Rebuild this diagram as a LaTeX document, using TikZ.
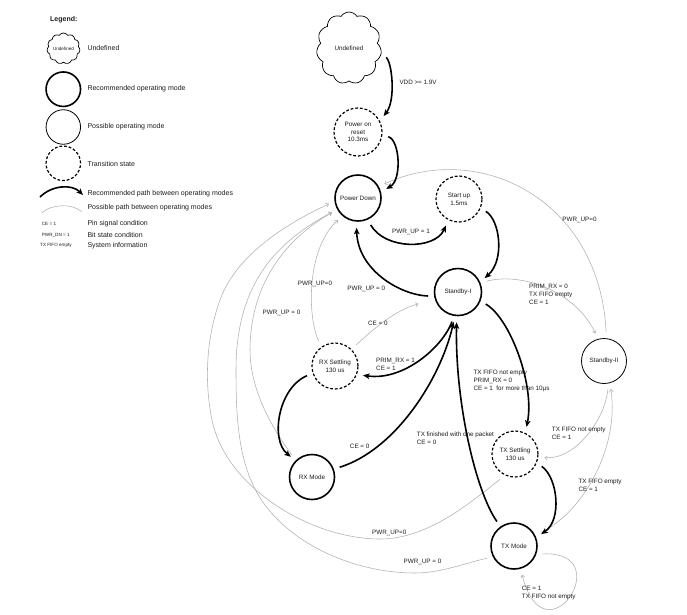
\documentclass[tikz,border=0pt]{standalone}
\usepackage{fontspec}
\setmainfont{Liberation Sans}
\usetikzlibrary{arrows.meta, shapes.symbols}
\definecolor{pathgray}{RGB}{176,176,176}
\definecolor{inkc}{RGB}{28,28,28}
\newcommand\lblfont{\fontsize{6.3}{7.8}\selectfont}
\newcommand\legfont{\fontsize{7}{8.4}\selectfont}
\newcommand\tinyfont{\fontsize{4.6}{5.5}\selectfont}

\begin{document}
\begin{tikzpicture}[x=1pt, y=-1pt,
  every node/.style={text=inkc},
  recmode/.style={circle, draw, line width=1.6pt, minimum size=46pt, inner sep=0pt, align=center, font=\lblfont},
  possmode/.style={circle, draw, line width=0.8pt, minimum size=46pt, inner sep=0pt, align=center, font=\lblfont},
  transmode/.style={circle, draw, line width=1.2pt, dash pattern=on 2.8pt off 1.9pt, minimum size=46pt, inner sep=0pt, align=center, font=\lblfont},
  undef/.style={cloud, draw, line width=0.7pt, cloud puffs=11, cloud puff arc=115, aspect=1, inner sep=0pt},
  recpath/.style={draw=black, line width=1.6pt, -{Stealth[length=6.5pt, width=5.5pt, inset=1.5pt]}, shorten <=6pt, shorten >=6pt},
  posspath/.style={draw=pathgray, line width=0.55pt, -{Straight Barb[length=2.6pt, width=4.2pt]}, shorten <=6pt, shorten >=6pt},
  cond/.style={font=\lblfont, inner sep=0pt, anchor=base},
  condl/.style={font=\lblfont, inner sep=0pt, align=left, anchor=north west},
  legtext/.style={font=\legfont, inner sep=0pt, anchor=west},
  tinytext/.style={font=\tinyfont, inner sep=0pt, anchor=west},
]
\useasboundingbox (0,0) rectangle (687,614);
\fill[white] (0,0) rectangle (687,614);

% ---------------- legend ----------------
\node[font=\bfseries\legfont, anchor=west, inner sep=0pt] (legtitle) at (50,20) {Legend:};
\node[undef, minimum width=33pt, minimum height=31pt] (lgcloud) at (63.5,48.5) {};
\node[font=\fontsize{4.6}{5}\selectfont, inner sep=0pt] (lgcloudtxt) at (lgcloud) {Undefined};
\node[legtext] (lgundef) at (87.3,48.3) {Undefined};
\node[recmode, minimum size=34.5pt] (lgrec) at (63.3,89.2) {};
\node[legtext] (lgrectxt) at (87.3,88.3) {Recommended operating mode};
\node[possmode, minimum size=34.5pt] (lgposs) at (63.3,127) {};
\node[legtext] (lgposstxt) at (87.3,126.7) {Possible operating mode};
\node[transmode, minimum size=34.5pt] (lgtrans) at (63.3,163.3) {};
\node[legtext] (lgtranstxt) at (87.3,164) {Transition state};
\coordinate (lra) at (40,197);
\coordinate (lrb) at (83,195);
\draw[recpath, shorten <=0pt, shorten >=0pt] (lra) .. controls (52,185) and (72,184) .. (lrb);
\node[legtext] (lgrecpath) at (87.3,194) {Recommended path between operating modes};
\coordinate (lpa) at (41.7,213);
\coordinate (lpb) at (81.7,211.7);
\draw[draw=pathgray, line width=0.55pt] (lpa) .. controls (51,204) and (72,203) .. (lpb);
\node[legtext] (lgposspath) at (87.3,207.3) {Possible path between operating modes};
\node[tinytext] (lgce) at (41.7,224) {CE = 1};
\node[legtext] (lgpin) at (87.3,224) {Pin signal condition};
\node[tinytext] (lgpwr) at (41.7,235) {PWR\_DN = 1};
\node[legtext] (lgbit) at (87.3,235) {Bit state condition};
\node[tinytext] (lgfifo) at (40,245.7) {TX FIFO empty};
\node[legtext] (lgsys) at (87.3,245.7) {System information};

% ---------------- states ----------------
\node[undef, minimum width=65pt, minimum height=72pt] (undef) at (349,48) {};
\node[font=\lblfont, inner sep=0pt] (undeftxt) at (undef) {Undefined};
\node[transmode, minimum size=48pt] (por) at (358,132) {Power on\\reset\\10.3ms};
\node[recmode] (pd) at (358,198) {Power Down};
\node[transmode] (su) at (459,199) {Start up\\1.5ms};
\node[recmode, minimum size=47pt] (sbi) at (458,292) {Standby-I};
\node[possmode, minimum size=45pt] (sbii) at (604,361) {Standby-II};
\node[transmode] (rxs) at (335,366) {RX Settling\\130 us};
\node[recmode, minimum size=45pt] (rxm) at (312,477) {RX Mode};
\node[transmode] (txs) at (515,454) {TX Settling\\130 us};
\node[recmode] (txm) at (514,546) {TX Mode};

% ---------------- possible paths ----------------
\draw[posspath] (sbi.22) .. controls (520,272) and (575,290) .. (sbii.105);
\draw[posspath] (sbii.84) .. controls (600,200) and (480,140) .. (pd.29);
\draw[posspath] (sbii.-79) .. controls (605,420) and (575,460) .. (txs.-8);
\draw[posspath] (txm.28) .. controls (580,515) and (620,450) .. (sbii.-75);
\draw[posspath] (txm.-20) .. controls (620,550) and (545,665) .. (txm.-74);
\draw[posspath, shorten >=17pt] (rxs.45) .. controls (372,330) and (395,310) .. (sbi.198);
% power-down returns sweeping round the left side
\draw[posspath] (txs.245) .. controls (468.6,504.1) and (427,539) .. (380,539)
  .. controls (311,539) and (225.8,487.6) .. (212,420)
  .. controls (204,380.8) and (206.4,337.6) .. (220,300)
  .. controls (237,253) and (289.7,222.2) .. (pd.188);
\draw[posspath] (txm.208) .. controls (467.2,562.2) and (442,573) .. (415,573)
  .. controls (360,573) and (298,549) .. (265,505)
  .. controls (237.4,468.2) and (236,416) .. (236,370)
  .. controls (236,290) and (270,245) .. (pd.209);
\draw[posspath] (rxm.134) .. controls (272.4,428.8) and (250,390) .. (250,350)
  .. controls (250,290) and (280,242) .. (pd.209);
\draw[posspath] (rxs.125) .. controls (308,320) and (305,250) .. (pd.229);

% ---------------- recommended paths ----------------
\draw[recpath] (undef.-10) .. controls (392,62) and (396,100) .. (por.27);
\draw[recpath] (por.-7) .. controls (400,140) and (402,180) .. (pd.15);
\draw[recpath] (pd.-66) .. controls (385,250) and (435,250) .. (su.-117);
\draw[recpath] (su.-23) .. controls (500,220) and (505,260) .. (sbi.24);
\draw[recpath] (sbi.190) .. controls (400,295) and (358,270) .. (pd.-94);
\draw[recpath] (sbi.-22) .. controls (510,318) and (535,385) .. (txs.64);
\draw[recpath] (sbi.-99) .. controls (442,348) and (403,381) .. (rxs.-21);
\draw[recpath] (rxm.20) .. controls (395,450) and (440,380) .. (sbi.-97);
\draw[recpath] (txm.125) .. controls (475,490) and (455,400) .. (sbi.-93);
\draw[recpath] (rxs.198) .. controls (278,388) and (270,440) .. (rxm.135);
\draw[recpath] (txs.-22) .. controls (558,478) and (562,520) .. (txm.21);

% ---------------- conditions ----------------
\node[cond, anchor=base west] (lvdd) at (399.3,84) {VDD >= 1.9V};
\node[cond] (lpu1) at (411,233) {PWR\_UP = 1};
\node[cond] (lpd1) at (366.3,290.6) {PWR\_UP = 0};
\node[cond] (lpd2) at (315,285.6) {PWR\_UP=0};
\node[cond] (lpd3) at (281.5,314) {PWR\_UP = 0};
\node[cond] (lpd4) at (579.5,221.6) {PWR\_UP=0};
\node[cond] (lpd5) at (389.2,534) {PWR\_UP=0};
\node[cond] (lpd6) at (422.5,563.3) {PWR\_UP = 0};
\node[cond] (lce0a) at (377.8,325.6) {CE = 0};
\node[cond] (lce0b) at (359.7,448) {CE = 0};
\node[condl] (lstb2) at (529,284.3) {PRIM\_RX = 0\\TX FIFO empty\\CE = 1};
\node[condl] (lrx1) at (376,357.7) {PRIM\_RX = 1\\CE = 1};
\node[condl] (ltxgo) at (473.3,370.3) {TX FIFO not empty\\PRIM\_RX = 0\\CE = 1\ \ for more than 10µs};
\node[condl] (ltxdone) at (416.7,432) {TX finished with one packet\\CE = 0};
\node[condl] (lsb2tx) at (551.7,427) {TX FIFO not empty\\CE = 1};
\node[condl] (ltxsb2) at (578.3,478.7) {TX FIFO empty\\CE = 1};
\node[condl] (lloop) at (521.7,586.3) {CE = 1\\TX FIFO not empty};
\end{tikzpicture}
\end{document}
